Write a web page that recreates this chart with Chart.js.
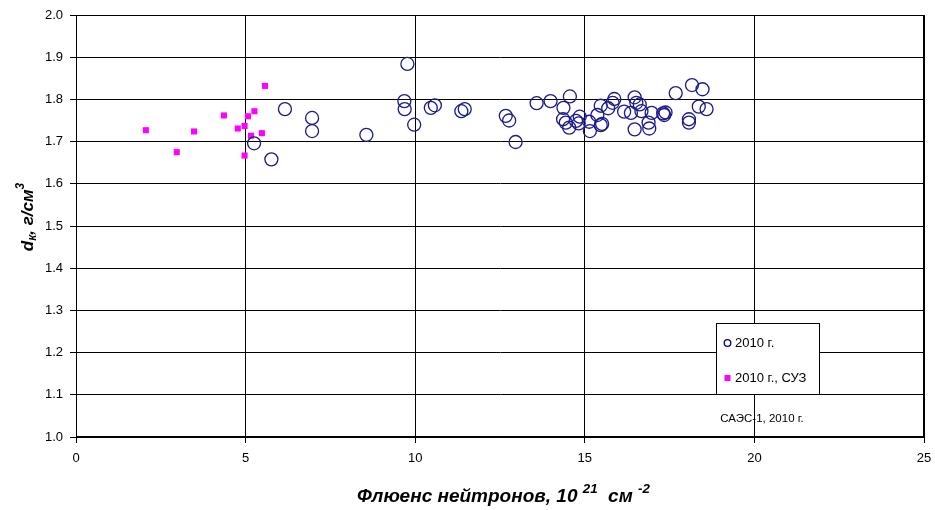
<!DOCTYPE html>
<html>
<head>
<meta charset="utf-8">
<script src="https://cdn.jsdelivr.net/npm/chart.js@4"></script>
<style>
html,body{margin:0;padding:0;background:#fff}
#wrap{width:935px;height:510px}
</style>
</head>
<body>
<div id="wrap"><canvas id="c"></canvas></div>
<script>
// 2010 г. (circles)
const fluence2010 = [5.25,5.76,6.16,6.96,6.96,8.56,9.77,9.68,9.69,9.97,10.46,10.58,11.36,11.46,12.67,12.77,12.96,
  13.58,13.99,14.56,14.37,14.36,14.44,14.54,14.74,14.85,14.82,15.13,15.15,15.37,15.47,15.47,15.51,15.69,15.82,15.87,
  16.16,16.36,16.47,16.52,16.62,16.67,16.47,16.88,16.9,16.97,17.31,17.38,17.34,17.68,18.16,18.47,18.07,18.07,18.36,18.59]
const density2010 = [1.696,1.658,1.777,1.756,1.725,1.716,1.884,1.796,1.777,1.740,1.780,1.786,1.772,1.777,1.761,1.750,1.699,
  1.791,1.796,1.807,1.780,1.753,1.745,1.733,1.749,1.759,1.743,1.747,1.725,1.763,1.785,1.739,1.742,1.779,1.792,1.801,
  1.771,1.768,1.805,1.792,1.788,1.772,1.729,1.745,1.731,1.768,1.767,1.769,1.763,1.815,1.834,1.824,1.753,1.745,1.783,1.777]

// 2010 г., СУЗ (squares)
const fluenceSUZ = [5.57,2.06,2.97,3.48,4.36,4.77,4.97,5.07,5.26,5.16,5.48,4.97]
const densitySUZ = [1.832,1.727,1.675,1.724,1.762,1.731,1.737,1.760,1.772,1.714,1.720,1.667]

const seriesLabels = ["2010 г.", "2010 г., СУЗ"]
const xTicks = [0,5,10,15,20,25]
const yTicks = [1.0,1.1,1.2,1.3,1.4,1.5,1.6,1.7,1.8,1.9,2.0]
const note = "САЭС-1, 2010 г."

function toPoints(xs, ys){
  return xs.map((x,i)=>({x:x, y:ys[i]}))
}

// draws text parts with sub/superscripts, returns width
function drawRich(ctx, parts, x, y, base, measureOnly){
  let w = 0
  parts.forEach(p=>{
    const size = p.s ? base*0.7 : base
    ctx.font = "italic bold " + size + "px 'Liberation Sans', Arial, sans-serif"
    const tw = ctx.measureText(p.t).width
    if(!measureOnly){
      let dy = 0
      if(p.s === "sup") dy = -base*0.42
      if(p.s === "sub") dy = base*0.25
      ctx.fillText(p.t, x + w, y + dy)
    }
    w += tw
  })
  return w
}

const decor = {
  id:"decor",
  afterDraw(chart){
    const ctx = chart.ctx
    ctx.save()
    ctx.fillStyle = "#000"
    ctx.textBaseline = "middle"
    ctx.textAlign = "left"

    // x title
    const xParts = [{t:"Флюенс нейтронов, 10 "},{t:"21",s:"sup"},{t:"  см "},{t:"-2",s:"sup"}]
    drawRich(ctx, xParts, 357, 497, 19)

    // y title
    const yParts = [{t:"d"},{t:"к",s:"sub"},{t:", г/см"},{t:"3",s:"sup"}]
    const yw = drawRich(ctx, yParts, 0, 0, 17, true)
    ctx.save()
    ctx.translate(28, 217)
    ctx.rotate(-Math.PI/2)
    drawRich(ctx, yParts, -yw/2, 0, 17)
    ctx.restore()

    // legend box
    const bx = 716, by = 323, bw = 103, bh = 71
    ctx.fillStyle = "#fff"
    ctx.fillRect(bx, by, bw, bh)
    ctx.strokeStyle = "#000"
    ctx.lineWidth = 1
    ctx.strokeRect(bx+0.5, by+0.5, bw, bh)

    ctx.font = "13px 'Liberation Sans', Arial, sans-serif"
    ctx.fillStyle = "#000"
    ctx.fillText(seriesLabels[0], 735, 343)
    ctx.fillText(seriesLabels[1], 735, 378)
    ctx.strokeStyle = "#000080"
    ctx.lineWidth = 1.3
    ctx.beginPath()
    ctx.arc(727.5, 343, 3.3, 0, Math.PI*2)
    ctx.stroke()
    ctx.fillStyle = "#ff00ff"
    ctx.fillRect(724.5, 375, 6, 6)

    // note
    ctx.fillStyle = "#000"
    ctx.textAlign = "center"
    ctx.font = "11.5px 'Liberation Sans', Arial, sans-serif"
    ctx.fillText(note, 762, 419)
    ctx.restore()
  }
}

new Chart(document.getElementById("c"), {
  type:"scatter",
  data:{
    datasets:[
      {
        label:seriesLabels[0],
        data:toPoints(fluence2010, density2010),
        pointStyle:"circle",
        pointRadius:6.5,
        pointHoverRadius:6.5,
        borderColor:"#1a1a8c",
        backgroundColor:"rgba(0,0,0,0)",
        borderWidth:1.3
      },
      {
        label:seriesLabels[1],
        data:toPoints(fluenceSUZ, densitySUZ),
        pointStyle:"rect",
        pointRadius:4.3,
        pointHoverRadius:4.3,
        borderColor:"#ff00ff",
        backgroundColor:"#ff00ff",
        borderWidth:0
      }
    ]
  },
  options:{
    responsive:true,
    maintainAspectRatio:false,
    animation:false,
    events:[],
    layout:{padding:{left:0,right:11,top:15,bottom:0}},
    plugins:{legend:{display:false},tooltip:{enabled:false}},
    scales:{
      x:{
        type:"linear",
        min:0, max:25,
        afterBuildTicks(s){ s.ticks = xTicks.map(v=>({value:v})) },
        afterFit(s){ s.height = 73; s.paddingLeft = 0; s.paddingRight = 0 },
        border:{color:"#000",width:1},
        grid:{color:"#000",lineWidth:1,tickLength:6,drawTicks:true},
        ticks:{color:"#000",padding:8,font:{family:"'Liberation Sans', Arial, sans-serif",size:13},maxRotation:0}
      },
      y:{
        type:"linear",
        min:1.0, max:2.0,
        afterBuildTicks(s){ s.ticks = yTicks.map(v=>({value:v})) },
        afterFit(s){ s.width = 76 },
        border:{color:"#000",width:1},
        grid:{color:"#000",lineWidth:1,tickLength:6,drawTicks:true},
        ticks:{color:"#000",padding:7,font:{family:"'Liberation Sans', Arial, sans-serif",size:13},
          callback:v=>v.toFixed(1)}
      }
    }
  },
  plugins:[decor,{
    id:"frame",
    afterDatasetsDraw(chart){
      const a = chart.chartArea, ctx = chart.ctx
      ctx.save()
      ctx.strokeStyle = "#000"
      ctx.lineWidth = 1
      ctx.strokeRect(Math.round(a.left)+0.5, Math.round(a.top)+0.5, Math.round(a.right-a.left)-1, Math.round(a.bottom-a.top)-1)
      ctx.restore()
    }
  }]
})
</script>
</body>
</html>
